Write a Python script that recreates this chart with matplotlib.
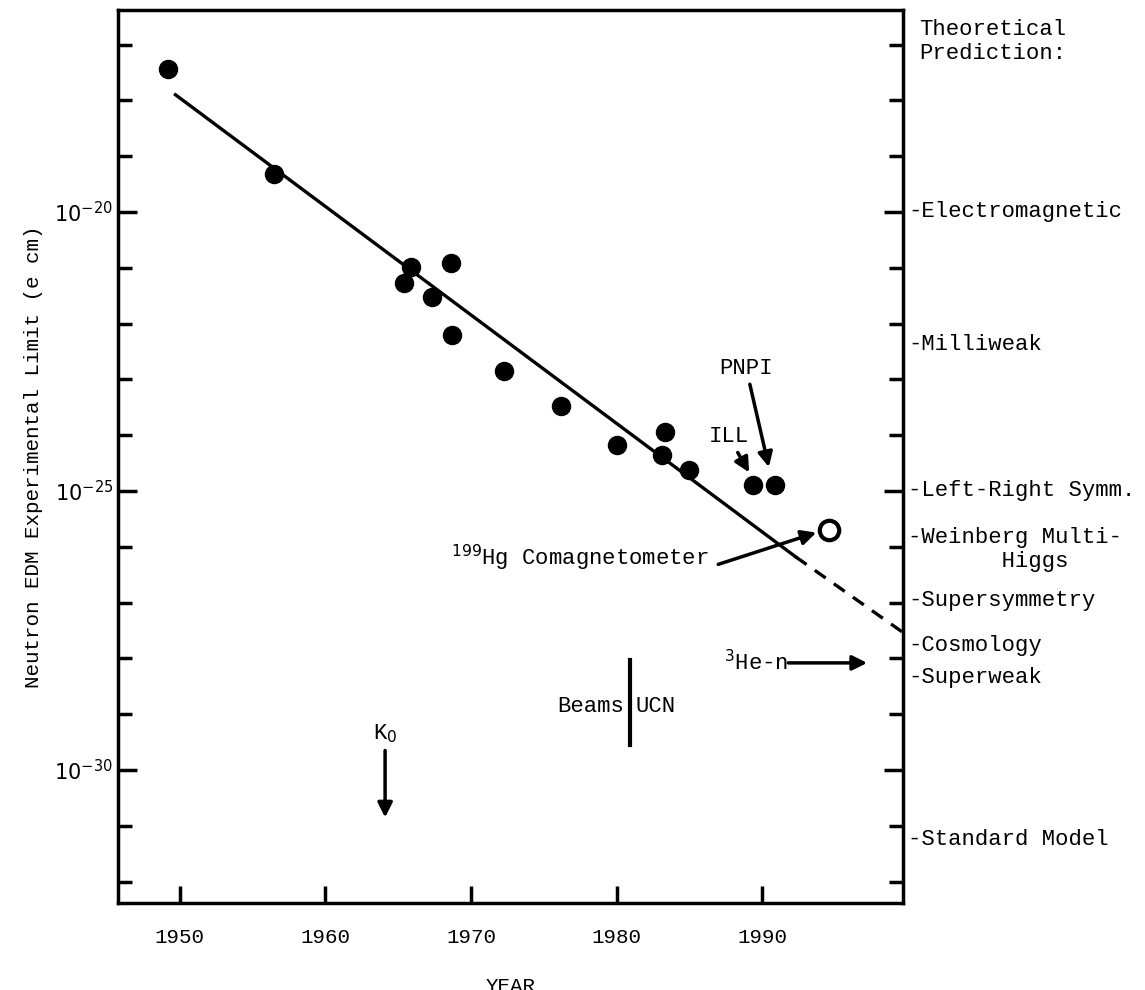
import numpy as np
import matplotlib.pyplot as plt

plt.rcParams['font.family'] = ['Liberation Mono', 'DejaVu Sans Mono']

# datos (log10 del limite)
anios = [1949.2, 1956.5, 1965.4, 1965.9, 1967.3, 1968.6, 1968.7, 1972.3,
         1976.2, 1980.0, 1983.3, 1983.1, 1985.0, 1989.4, 1990.9]
log_lim = [-17.44, -19.32, -21.27, -20.99, -21.52, -20.91, -22.20, -22.85,
           -23.48, -24.18, -23.94, -24.35, -24.62, -24.89, -24.89]
hg_anio = [1994.6]
hg_log = [-25.70]
ajuste_x = [1949.7, 1992.3]
ajuste_y = [-17.90, -26.18]
extra_x = [1992.3, 1999.7]
extra_y = [-26.18, -27.54]

teorias = ["Electromagnetic", "Milliweak", "Left-Right Symm.", "Weinberg Multi-\n       Higgs",
           "Supersymmetry", "Cosmology", "Superweak", "Standard Model"]
teorias_log = [-20, -22.38, -25, -26.05, -26.97, -27.76, -28.35, -31.25]

fig = plt.figure(figsize=(11.45, 9.9), dpi=100)
ax = fig.add_axes([0.103, 0.088, 0.686, 0.902])

ax.semilogy(ajuste_x, 10.0**np.array(ajuste_y), color='black', lw=2.4)
ax.semilogy(extra_x, 10.0**np.array(extra_y), color='black', lw=2.4, ls=(0, (4, 3)))
ax.semilogy(anios, 10.0**np.array(log_lim), 'o', color='black', ms=13)
ax.semilogy(hg_anio, 10.0**np.array(hg_log), 'o', mfc='white', mec='black', mew=3, ms=14)

ax.set_xlim(1945.75, 1999.7)
ax.set_ylim(10**-32.38, 10**-16.38)
ax.set_xticks([1950, 1960, 1970, 1980, 1990])
ax.set_yticks([1e-20, 1e-25, 1e-30])
ax.set_yticklabels([r'$10^{-20}$', r'$10^{-25}$', r'$10^{-30}$'], fontsize=15)
ax.set_yticks([10.0**k for k in range(-32, -16) if k % 5 != 0], minor=True)
ax.yaxis.set_minor_formatter(plt.NullFormatter())
ax.tick_params(axis='y', which='both', direction='in', right=True, width=2.5)
ax.tick_params(axis='y', which='major', length=14)
ax.tick_params(axis='y', which='minor', length=10)
ax.tick_params(axis='x', direction='in', length=12, width=2.5, labelsize=15, pad=18)
for s in ax.spines.values():
    s.set_linewidth(2.5)

ax.set_xlabel("YEAR", fontsize=15, labelpad=22)
ax.set_ylabel("Neutron EDM Experimental Limit (e cm)", fontsize=15, labelpad=8)

for nombre, v in zip(teorias, teorias_log):
    ax.text(1.006, 10.0**v, "-" + nombre, transform=ax.get_yaxis_transform(),
            fontsize=16, va='center', ha='left')
ax.text(1.02, 0.99, "Theoretical\nPrediction:", transform=ax.transAxes,
        fontsize=16, va='top', ha='left')

flecha = dict(arrowstyle='-|>', color='black', lw=2.5, mutation_scale=22)
ax.annotate("ILL", xy=(1989.2, 10**-24.71), xytext=(1987.7, 10**-24.03),
            fontsize=16, ha='center', va='center', arrowprops=flecha)
ax.annotate("PNPI", xy=(1990.5, 10**-24.62), xytext=(1988.9, 10**-22.8),
            fontsize=16, ha='center', va='center', arrowprops=flecha)
ax.annotate("", xy=(1993.9, 10**-25.73), xytext=(1986.8, 10**-26.33), arrowprops=flecha)
ax.text(1986.3, 10**-26.2, r"$^{199}$Hg Comagnetometer", fontsize=16, ha='right', va='center')
ax.annotate("", xy=(1997.4, 10**-28.08), xytext=(1991.6, 10**-28.08), arrowprops=flecha)
ax.text(1991.8, 10**-28.08, r"$^{3}$He-n", fontsize=16, ha='right', va='center')
ax.plot([1980.9, 1980.9], [10**-28.03, 10**-29.55], color='black', lw=3)
ax.text(1980.5, 10**-28.87, "Beams", fontsize=16, ha='right', va='center')
ax.text(1981.3, 10**-28.87, "UCN", fontsize=16, ha='left', va='center')
ax.annotate("", xy=(1964.1, 10**-30.9), xytext=(1964.1, 10**-29.6), arrowprops=flecha)
ax.text(1964.1, 10**-29.35, r"K$_0$", fontsize=16, ha='center', va='center')

fig.savefig("out.png", dpi=100)
